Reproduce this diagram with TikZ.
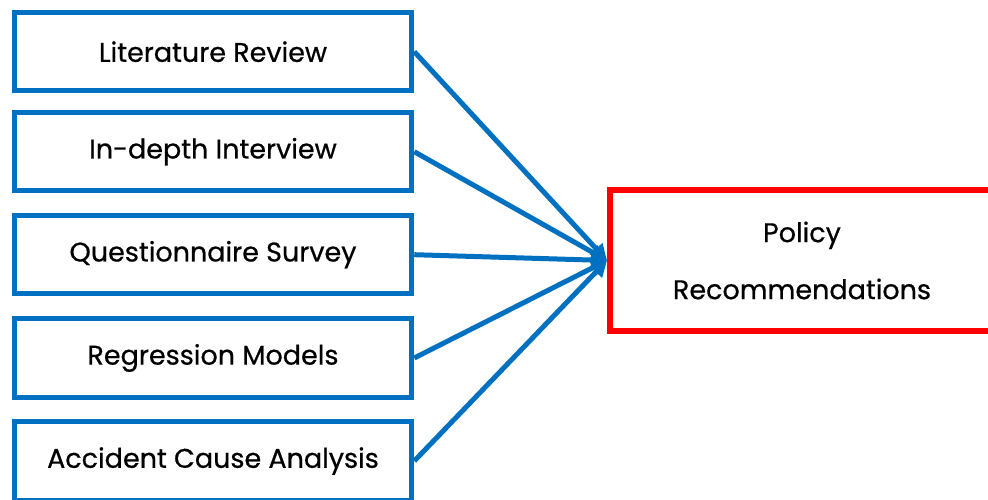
\documentclass[tikz,border=0pt]{standalone}
\usepackage{fontspec}
\setmainfont{Poppins}[FakeBold=0.6]
\usetikzlibrary{arrows.meta}
\definecolor{stepblue}{HTML}{0070C0}
\definecolor{policyred}{HTML}{FF0000}
\tikzset{
  methodbox/.style={draw=stepblue,line width=5pt,minimum width=397.5pt,minimum height=78.5pt,inner sep=0pt,font=\fontsize{27}{30}\selectfont},
  policybox/.style={draw=policyred,line width=6pt,minimum width=384pt,minimum height=141pt,inner sep=0pt,align=center,font=\fontsize{27}{57}\selectfont},
  feed/.style={draw=stepblue,line width=5pt,-{Triangle[length=16pt,width=16pt]}}
}
\begin{document}
\begin{tikzpicture}[x=1pt,y=-1pt]
\path[use as bounding box,clip](0,0) rectangle (988,500);
\node[methodbox](lit) at (213,51.7){Literature Review};
\node[methodbox](inter) at (213,151.7){In-depth Interview};
\node[methodbox](quest) at (213,254.7){Questionnaire Survey};
\node[methodbox](regr) at (213,358){Regression Models};
\node[methodbox](acc) at (213,461){Accident Cause Analysis};
\node[policybox](policy) at (802,260.5){Policy\\Recommendations};
\foreach \m in {lit,inter,quest,regr,acc}
  \draw[feed](\m.east)--(policy.west);
\end{tikzpicture}
\end{document}
